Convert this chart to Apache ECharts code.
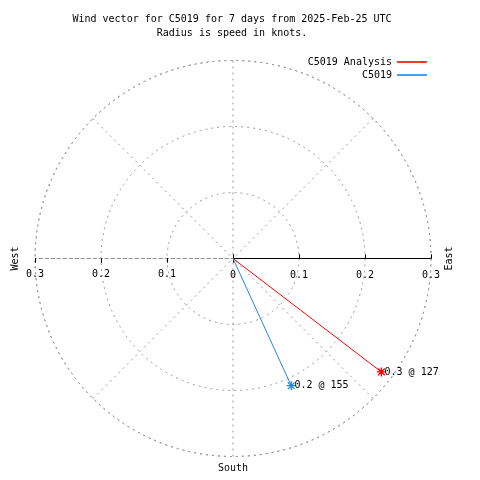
<!DOCTYPE html>
<html><head><meta charset="utf-8">
<script src="https://cdn.jsdelivr.net/npm/echarts@6/dist/echarts.min.js"></script>
<style>html,body{margin:0;padding:0;background:#fff}#c{width:480px;height:480px}</style>
</head><body><div id="c"></div>
<script>
const titleLines = ['Wind vector for C5019 for 7 days from 2025-Feb-25 UTC', 'Radius is speed in knots.'];
const seriesNames = ['C5019 Analysis', 'C5019'];
const seriesColors = ['#ff0000', '#1e88e5'];
const directions = [127.4, 155.4];   // degrees, compass bearing
const speeds = [0.283, 0.212];       // knots
const radiusMin = 0, radiusMax = 0.3, radiusStep = 0.1;
const eastName = 'East', westName = 'West', southName = 'South';

const FONT = 'DejaVu Sans Mono';
const CENTER = [233, 258.5];
const RADIUS = 198;
const GRID = {color: '#999999', width: 1, type: [2, 4]};
const STAR = 'path://M4 0L4 8M0 4L8 4M1 1L7 7M7 1L1 7';

function hiddenAngle(polarIndex, start) {
  return {polarIndex, startAngle: start, min: 0, max: 360, clockwise: true,
    axisLine: {show: false}, axisTick: {show: false}, axisLabel: {show: false}, splitLine: {show: false}};
}
function radius(polarIndex, opts) {
  return Object.assign({polarIndex, min: radiusMin, max: radiusMax, interval: radiusStep,
    splitLine: {show: false}, axisLine: {show: false},
    axisTick: {show: true, length: 4, lineStyle: {color: '#000', width: 1}},
    axisLabel: {show: false}}, opts);
}
const labelStyle = {fontFamily: FONT, fontSize: 10, color: '#000'};

const option = {
  animation: false,
  backgroundColor: '#fff',
  title: {
    text: titleLines.join('\n'), left: 232, top: 12, textAlign: 'center', padding: 0,
    textStyle: {fontFamily: FONT, fontSize: 10, fontWeight: 'normal', color: '#000', lineHeight: 14}
  },
  legend: seriesNames.map((n, i) => ({
    data: [n], right: 53, top: 57 + i * 13, align: 'right', padding: 0,
    icon: 'rect', itemWidth: 30, itemHeight: 1.6,
    itemStyle: {borderWidth: 0},
    textStyle: {fontFamily: FONT, fontSize: 10, color: '#000'}
  })),
  polar: [0, 1, 2, 3].map(() => ({center: CENTER, radius: RADIUS})),
  angleAxis: [
    {polarIndex: 0, startAngle: 0, min: 90, max: 450, interval: 45, clockwise: true,
      axisLine: {show: true, lineStyle: GRID}, axisTick: {show: false},
      splitLine: {show: true, lineStyle: GRID},
      axisLabel: {show: true, margin: 7, fontFamily: FONT, fontSize: 10, color: '#000',
        formatter: v => (v === 180 ? southName : '')}},
    hiddenAngle(1, 180), hiddenAngle(2, 0), hiddenAngle(3, 180)
  ],
  radiusAxis: [
    radius(0, {axisLine: {show: true, lineStyle: {color: '#000', width: 1}},
      splitLine: {show: true, lineStyle: GRID},
      axisLabel: Object.assign({show: true, margin: -22, formatter: v => String(+v.toFixed(1))}, labelStyle),
      name: eastName, nameLocation: 'end', nameGap: 13, nameRotate: 90, nameTextStyle: labelStyle}),
    radius(1, {axisLine: {show: true, lineStyle: GRID},
      axisLabel: Object.assign({show: true, margin: 11, showMinLabel: false, formatter: v => String(+v.toFixed(1))}, labelStyle),
      name: westName, nameLocation: 'end', nameGap: 15, nameRotate: 90, nameTextStyle: labelStyle}),
    radius(2, {axisTick: {show: true, inside: true, length: 4, lineStyle: {color: '#000', width: 1}}}),
    radius(3, {axisTick: {show: true, inside: true, length: 4, lineStyle: {color: '#000', width: 1}}})
  ],
  series: seriesNames.map((n, i) => ({
    name: n, type: 'line', coordinateSystem: 'polar', polarIndex: 0,
    color: seriesColors[i],
    lineStyle: {color: seriesColors[i], width: 1},
    itemStyle: {color: seriesColors[i], borderColor: seriesColors[i], borderWidth: 1.3},
    z: 5,
    data: [
      {value: [0, directions[i]], symbol: 'none'},
      {value: [speeds[i], directions[i]], symbol: STAR, symbolSize: 9,
        label: {show: true, position: 'right', distance: -2, fontFamily: FONT, fontSize: 10, color: '#000',
          formatter: () => speeds[i].toFixed(1) + ' @ ' + directions[i].toFixed(0)}}
    ]
  }))
};
const chart = echarts.init(document.getElementById('c'), null, {renderer: 'canvas'});
chart.setOption(option);
</script></body></html>
